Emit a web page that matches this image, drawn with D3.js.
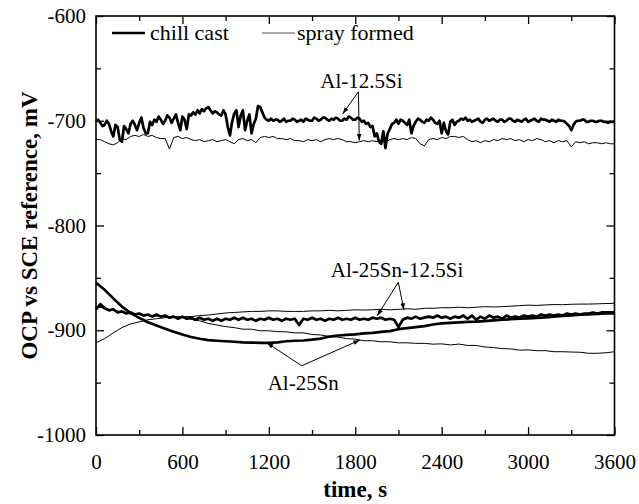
<!DOCTYPE html>
<html><head><meta charset="utf-8">
<script src="https://cdn.jsdelivr.net/npm/d3@7"></script>
<style>
html,body{margin:0;padding:0;background:#fff;}
svg text{font-family:"Liberation Serif","Times New Roman",Times,"DejaVu Serif",serif !important;fill:#000;}
</style></head><body>
<svg id="c" width="639" height="504"></svg>
<script>
// ---------- data (time in s, potential in mV) ----------
const xTicks = [0, 600, 1200, 1800, 2400, 3000, 3600];
const yTicks = [-1000, -900, -800, -700, -600];

// Al-12.5Si chill cast, sampled every 15 s
const chillAlSi = [
 -701,-699,-702,-705,-704,-700,-703,-710,-715,-704,-706,-718,-720,-705,-708,-712,-703,-700,-704,-709,
 -702,-697,-707,-712,-712,-701,-704,-699,-701,-696,-699,-703,-700,-695,-697,-702,-698,-694,-702,-709,
 -696,-699,-708,-694,-695,-692,-694,-690,-693,-689,-691,-688,-687,-690,-693,-691,-692,-694,-695,-690,
 -694,-706,-714,-701,-693,-690,-706,-695,-690,-709,-700,-694,-712,-703,-698,-686,-687,-692,-697,-699,
 -700,-698,-700,-699,-699,-701,-700,-698,-701,-700,-700,-698,-699,-701,-700,-699,-701,-698,-699,-700,
 -700,-697,-698,-700,-699,-697,-697,-699,-700,-698,-699,-697,-698,-700,-700,-698,-699,-696,-697,-699,
 -699,-697,-698,-701,-700,-703,-702,-706,-705,-715,-712,-720,-722,-710,-726,-712,-708,-703,-702,-699,
 -703,-699,-700,-702,-704,-699,-712,-705,-701,-698,-699,-701,-702,-699,-700,-697,-699,-702,-703,-700,
 -712,-702,-710,-713,-701,-699,-704,-701,-700,-698,-699,-697,-700,-699,-701,-700,-699,-698,-701,-702,
 -699,-698,-700,-699,-698,-700,-701,-699,-699,-701,-700,-698,-698,-700,-701,-699,-700,-701,-699,-698,
 -701,-700,-699,-698,-700,-701,-698,-699,-699,-700,-701,-699,-700,-701,-699,-700,-700,-701,-703,-705,
 -709,-704,-701,-700,-700,-699,-699,-701,-701,-700,-700,-701,-701,-700,-700,-701,-701,-702,-701,-701,
 -701];
// Al-12.5Si spray formed, sampled every 30 s
const sprayAlSi = [
 -718,-718,-720,-722,-723,-721,-717,-718,-715,-714,
 -715,-713,-715,-714,-716,-717,-717,-727,-716,-715,
 -717,-716,-718,-719,-718,-720,-719,-718,-720,-719,
 -718,-720,-722,-718,-717,-719,-718,-721,-716,-715,
 -716,-715,-717,-717,-718,-717,-719,-719,-720,-718,
 -719,-718,-720,-718,-717,-718,-717,-718,-720,-720,
 -721,-720,-719,-720,-719,-720,-719,-721,-718,-717,
 -718,-717,-718,-716,-717,-722,-724,-718,-717,-718,
 -716,-717,-715,-715,-716,-715,-718,-720,-719,-721,
 -719,-720,-718,-719,-717,-718,-717,-719,-718,-720,
 -718,-719,-717,-718,-720,-719,-721,-719,-720,-719,
 -725,-720,-721,-720,-722,-721,-721,-722,-721,-722,
 -722];
// Al-25Sn-12.5Si chill cast, sampled every 30 s
const chillAlSnSi = [
 -880,-875,-879,-881,-880,-883,-882,-884,-883,-885,
 -884,-886,-885,-887,-885,-887,-886,-888,-887,-889,
 -887,-889,-888,-890,-888,-890,-889,-891,-889,-891,
 -889,-890,-888,-890,-888,-890,-889,-891,-889,-890,
 -888,-890,-889,-891,-889,-890,-889,-895,-889,-890,
 -888,-890,-889,-891,-889,-890,-888,-890,-889,-890,
 -888,-890,-889,-890,-888,-889,-888,-890,-889,-890,
 -897,-890,-888,-889,-887,-889,-888,-887,-888,-886,
 -888,-887,-889,-887,-888,-886,-889,-886,-890,-887,
 -889,-886,-888,-887,-889,-886,-888,-887,-888,-886,
 -887,-886,-887,-885,-886,-885,-886,-885,-886,-884,
 -885,-884,-885,-884,-884,-883,-884,-883,-883,-883,
 -883];
// the rest sampled every 60 s
const sprayAlSnSi = [
 -877.5,-879,-881,-882.5,-884,-885,-886,-886.5,-887,-887,
 -887,-887,-886,-885.5,-884.5,-883.5,-883,-882.5,-882,-882,
 -881.5,-881.5,-882,-882,-882,-881.5,-881.5,-881,-881.5,-881,
 -880.5,-880.7,-880.5,-880,-880.5,-880,-879.5,-880,-879,-879,
 -878.5,-878.5,-878,-878.5,-878,-877.5,-877.8,-877.5,-877,-876.5,
 -876,-876.3,-875.8,-875.5,-875.6,-875.2,-875,-875,-874.8,-874.5,
 -874.3];
const chillAlSn = [
 -854.6,-861.3,-869.6,-877.4,-883.6,-888.2,-892.4,-895.5,-898.5,-901.5,
 -904,-906.4,-908.1,-909.5,-910,-910.5,-911,-911.5,-911.8,-912,
 -912,-911.5,-910.5,-910,-909.8,-909,-908,-906,-905,-904.5,
 -904,-903,-902.5,-901.5,-900.8,-899,-898,-897,-896,-894.5,
 -893.5,-893,-892.5,-892,-891.8,-891.2,-890.5,-890,-889.5,-889,
 -888.6,-888.2,-887.7,-887,-886.4,-885.8,-885.2,-884.8,-884.3,-884,
 -883.8];
const sprayAlSn = [
 -912,-908,-902.5,-897.5,-894,-892,-890,-889,-888,-887.5,
 -888,-889.5,-891,-893.5,-895,-896.5,-897.5,-899,-899,-900.5,
 -900.5,-901.3,-901.5,-902.5,-902.5,-904,-904.5,-906,-906.5,-908,
 -908.5,-910,-910,-911,-911,-912,-912,-912.5,-912.5,-913.3,
 -913,-914,-913.2,-914.5,-914.5,-916,-916.5,-917.5,-917.8,-919,
 -918.8,-919.5,-919.5,-920.5,-920.5,-920.8,-921,-922,-922,-921.5,
 -920.5];

const t15 = d3.range(0, 3601, 15);
const t30 = d3.range(0, 3601, 30);
const t60 = d3.range(0, 3601, 60);

const seriesList = [
  {name: "chill Al-12.5Si", t: t15, v: chillAlSi, thick: true},
  {name: "spray Al-12.5Si", t: t30, v: sprayAlSi, thick: false},
  {name: "spray Al-25Sn-12.5Si", t: t60, v: sprayAlSnSi, thick: false},
  {name: "spray Al-25Sn", t: t60, v: sprayAlSn, thick: false},
  {name: "chill Al-25Sn-12.5Si", t: t30, v: chillAlSnSi, thick: true},
  {name: "chill Al-25Sn", t: t60, v: chillAlSn, thick: true}
];

// annotations in data units
const annLabels = ["Al-12.5Si", "Al-25Sn-12.5Si", "Al-25Sn"];
const annLabelPos = [[1843, -669], [2090, -848.9], [1439, -957.1]];
const annArrowFrom = [[1822, -672.3], [2099, -854.2], [1428, -933.9]];
const annArrowTo = [[[1712, -693.6], [1828, -719]], [[1953, -886.1], [2138, -880.7]], [[1185, -911.9], [1833, -909.3]]];

const legendLabels = ["chill cast", "spray formed"];

// ---------- drawing ----------
const FONT = '"Liberation Serif","Times New Roman",Times,"DejaVu Serif",serif';
const svg = d3.select("#c").attr("font-family", FONT);
const L = 96, R = 614.5, T = 16, B = 435;
const x = d3.scaleLinear().domain([0, 3600]).range([L, R]);
const y = d3.scaleLinear().domain([-1000, -600]).range([B, T]);

svg.append("defs").append("marker")
  .attr("id", "ah").attr("viewBox", "0 -4 9 8")
  .attr("refX", 9).attr("refY", 0)
  .attr("markerWidth", 7).attr("markerHeight", 6)
  .attr("markerUnits", "userSpaceOnUse")
  .attr("orient", "auto")
  .append("path").attr("d", "M0,-3L9,0L0,3Z").attr("fill", "#000");

const minorX = d3.range(300, 3600, 600);
const minorY = [-950, -850, -750, -650];

function styleAxis(g) {
  g.attr("font-family", FONT);
  g.select(".domain").remove();
  g.selectAll(".tick line").attr("stroke", "#000").attr("stroke-width", 1.3);
  g.selectAll(".tick text").attr("font-size", 21).attr("font-family", FONT);
}

// bottom
svg.append("g").attr("transform", `translate(0,${B})`)
  .call(d3.axisBottom(x).tickValues(xTicks).tickSizeInner(-8).tickSizeOuter(0).tickPadding(19).tickFormat(d3.format("d")))
  .call(styleAxis);
svg.append("g").attr("transform", `translate(0,${B})`)
  .call(d3.axisBottom(x).tickValues(minorX).tickSizeInner(-5).tickSizeOuter(0).tickFormat(""))
  .call(styleAxis);
// top
svg.append("g").attr("transform", `translate(0,${T})`)
  .call(d3.axisTop(x).tickValues(xTicks).tickSizeInner(-8).tickSizeOuter(0).tickFormat(""))
  .call(styleAxis);
svg.append("g").attr("transform", `translate(0,${T})`)
  .call(d3.axisTop(x).tickValues(minorX).tickSizeInner(-5).tickSizeOuter(0).tickFormat(""))
  .call(styleAxis);
// left
svg.append("g").attr("transform", `translate(${L},0)`)
  .call(d3.axisLeft(y).tickValues(yTicks).tickSizeInner(-8).tickSizeOuter(0).tickPadding(10).tickFormat(d3.format("d")))
  .call(styleAxis);
svg.append("g").attr("transform", `translate(${L},0)`)
  .call(d3.axisLeft(y).tickValues(minorY).tickSizeInner(-5).tickSizeOuter(0).tickFormat(""))
  .call(styleAxis);
// right
svg.append("g").attr("transform", `translate(${R},0)`)
  .call(d3.axisRight(y).tickValues(yTicks).tickSizeInner(-8).tickSizeOuter(0).tickFormat(""))
  .call(styleAxis);
svg.append("g").attr("transform", `translate(${R},0)`)
  .call(d3.axisRight(y).tickValues(minorY).tickSizeInner(-5).tickSizeOuter(0).tickFormat(""))
  .call(styleAxis);

// use a plain hyphen for negatives, as in the reference
svg.selectAll(".tick text").text(function(){ return d3.select(this).text().replace("\u2212", "-"); });

// data lines
const line = d3.line().x(d => x(d[0])).y(d => y(d[1]));
const plot = svg.append("g");
seriesList.forEach(s => {
  const pts = s.v.map((v, i) => [s.t[i], v]);
  plot.append("path").datum(pts)
    .attr("d", line)
    .attr("fill", "none")
    .attr("stroke", "#000")
    .attr("stroke-width", s.thick ? 2.7 : 1)
    .attr("stroke-linejoin", "round");
});

// frame
svg.append("rect").attr("x", L).attr("y", T).attr("width", R - L).attr("height", B - T)
  .attr("fill", "none").attr("stroke", "#000").attr("stroke-width", 1.6);

// annotations
annLabels.forEach((lab, i) => {
  svg.append("text").attr("x", x(annLabelPos[i][0])).attr("y", y(annLabelPos[i][1]))
    .attr("text-anchor", "middle").attr("font-size", 21).text(lab);
  annArrowTo[i].forEach(tp => {
    svg.append("line")
      .attr("x1", x(annArrowFrom[i][0])).attr("y1", y(annArrowFrom[i][1]))
      .attr("x2", x(tp[0])).attr("y2", y(tp[1]))
      .attr("stroke", "#000").attr("stroke-width", 1)
      .attr("marker-end", "url(#ah)");
  });
});

// legend
const lg = svg.append("g");
lg.append("line").attr("x1", 112).attr("x2", 145).attr("y1", 33).attr("y2", 33)
  .attr("stroke", "#000").attr("stroke-width", 2.7);
lg.append("text").attr("x", 150).attr("y", 33).attr("dy", "0.32em").attr("font-size", 22).text(legendLabels[0]);
lg.append("line").attr("x1", 262).attr("x2", 295).attr("y1", 33).attr("y2", 33)
  .attr("stroke", "#555").attr("stroke-width", 1);
lg.append("text").attr("x", 297).attr("y", 33).attr("dy", "0.32em").attr("font-size", 22).text(legendLabels[1]);

// axis titles
svg.append("text").attr("x", (L + R) / 2).attr("y", 497).attr("text-anchor", "middle")
  .attr("font-size", 23).attr("font-weight", "bold").text("time, s");
svg.append("text").attr("transform", `translate(37,${(T + B) / 2}) rotate(-90)`)
  .attr("text-anchor", "middle").attr("font-size", 23).attr("font-weight", "bold")
  .text("OCP vs SCE reference, mV");
</script>
</body></html>
